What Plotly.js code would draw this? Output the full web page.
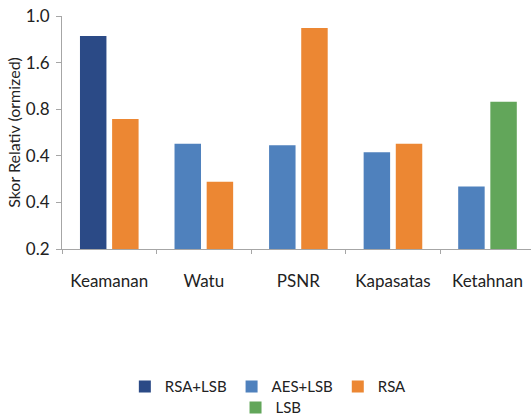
<!DOCTYPE html>
<html>
<head>
<meta charset="utf-8">
<script src="https://cdn.plot.ly/plotly-3.0.1.min.js"></script>
<style>
  html, body { margin: 0; padding: 0; background: #ffffff; }
  #chart { width: 531px; height: 416px; }
</style>
</head>
<body>
<div id="chart"></div>
<script>
// Categories along the x axis
const categories = ['Keamanan', 'Watu', 'PSNR', 'Kapasatas', 'Ketahnan'];

// Series values (null where a method has no bar in that category)
const rsaLsb = [0.931, null, null, null, null];
const aesLsb = [null, 0.561, 0.556, 0.532, 0.415];
const rsa    = [0.646, 0.431, 0.959, 0.561, null];
const lsb    = [null, null, null, null, 0.706];

// Y axis tick positions and their printed labels
const yTickVals = [0.2, 0.36, 0.52, 0.68, 0.84, 1.0];
const yTickText = ['0.2', '0.4', '0.4', '0.8', '1.6', '1.0'];

const font = 'Lato, Open Sans, sans-serif';
const txt = '#222222';
const barW = 0.28;

function series(name, values, color, offset, legend) {
  return {
    type: 'bar',
    name: name,
    x: categories,
    y: values,
    width: barW,
    offset: offset,
    marker: { color: color, line: { width: 0 } },
    legend: legend,
    hoverinfo: 'x+y+name'
  };
}

const data = [
  series('RSA+LSB', rsaLsb, '#2b4a86', -0.31, 'legend'),
  series('AES+LSB', aesLsb, '#4f81bd', -0.31, 'legend'),
  series('RSA', rsa, '#ec8733', 0.03, 'legend'),
  series('LSB', lsb, '#62a65a', 0.03, 'legend2')
];

const legendFont = { family: font, size: 15, color: txt };

const layout = {
  width: 531,
  height: 416,
  margin: { l: 62, r: 0, t: 16, b: 167, autoexpand: false },
  paper_bgcolor: '#ffffff',
  plot_bgcolor: '#ffffff',
  barmode: 'overlay',
  font: { family: font, size: 17, color: txt },
  xaxis: {
    type: 'category',
    range: [-0.5, 4.46],
    showline: true,
    linecolor: '#a6a6a6',
    linewidth: 1,
    ticks: 'outside',
    tickson: 'boundaries',
    ticklen: 4,
    tickcolor: '#a6a6a6',
    showgrid: false,
    zeroline: false,
    ticklabelstandoff: 17,
    tickfont: { family: font, size: 17, color: txt }
  },
  yaxis: {
    range: [0.2, 1.0],
    tickvals: yTickVals,
    ticktext: yTickText,
    showline: true,
    linecolor: '#a6a6a6',
    linewidth: 1,
    ticks: 'outside',
    ticklen: 5,
    tickcolor: '#a6a6a6',
    showgrid: false,
    zeroline: false,
    ticklabelstandoff: 3,
    tickfont: { family: font, size: 17, color: txt },
    title: { text: 'Skor Relativ (ormized)', font: { family: font, size: 16, color: txt }, standoff: 1 }
  },
  showlegend: true,
  legend: {
    orientation: 'h',
    x: 0.134, xanchor: 'left', xref: 'paper',
    y: -0.52, yanchor: 'top',
    bgcolor: 'rgba(0,0,0,0)',
    font: legendFont,
    traceorder: 'normal',
    itemclick: false
  },
  legend2: {
    orientation: 'h',
    x: 0.37, xanchor: 'left', xref: 'paper',
    y: -0.61, yanchor: 'top',
    bgcolor: 'rgba(0,0,0,0)',
    font: legendFont,
    itemclick: false
  }
};

Plotly.newPlot('chart', data, layout, { displayModeBar: false, staticPlot: true });
</script>
</body>
</html>
